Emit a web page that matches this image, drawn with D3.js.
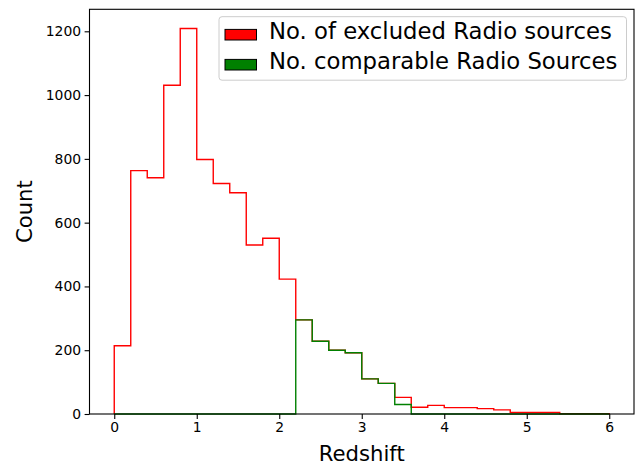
<!DOCTYPE html>
<html>
<head>
<meta charset="utf-8">
<script src="https://cdn.jsdelivr.net/npm/d3@7"></script>
<style>
  html, body { margin: 0; padding: 0; background: #fff; }
  svg { display: block; }
  text { font-family: "DejaVu Sans", sans-serif; }
</style>
</head>
<body>
<svg id="chart" width="636" height="467"></svg>
<script>
// ---- data ----
const binEdges = [0.0, 0.2, 0.4, 0.6, 0.8, 1.0, 1.2, 1.4, 1.6, 1.8, 2.0, 2.2, 2.4, 2.6, 2.8, 3.0,
                  3.2, 3.4, 3.6, 3.8, 4.0, 4.2, 4.4, 4.6, 4.8, 5.0, 5.2, 5.4, 5.6, 5.8, 6.0];
const excludedCounts = [214, 763, 741, 1031, 1209, 798, 723, 694, 530, 551, 423, 295, 228, 200, 192,
                        110, 96, 52, 21, 27, 20, 20, 17, 13, 5, 5, 5, 1, 1, 1];
const comparableCounts = [0, 0, 0, 0, 0, 0, 0, 0, 0, 0, 0, 295, 228, 200, 192,
                          110, 96, 30, 0, 0, 0, 0, 0, 0, 0, 0, 0, 0, 0, 0];
const xTicks = [0, 1, 2, 3, 4, 5, 6];
const yTicks = [0, 200, 400, 600, 800, 1000, 1200];
const seriesNames = ["No. of excluded Radio sources", "No. comparable Radio Sources"];
const seriesColors = ["#ff0000", "#008000"];
const xLabel = "Redshift";
const yLabel = "Count";

(function () {
// ---- layout ----
const svg = d3.select("#chart");
const mLeft = 89.5, mRight = 634, mTop = 9.3, mBottom = 414;
const x = d3.scaleLinear().domain([-0.3, 6.3]).range([mLeft, mRight]);
const y = d3.scaleLinear().domain([0, 1269]).range([mBottom, mTop]);

const tickLen = 4.9, tickPad = 3.5;

function stepPoints(counts) {
  const pts = [[binEdges[0], 0]];
  counts.forEach((c, i) => {
    pts.push([binEdges[i], c]);
    pts.push([binEdges[i + 1], c]);
  });
  pts.push([binEdges[binEdges.length - 1], 0]);
  return pts;
}
const line = d3.line().x(d => x(d[0])).y(d => y(d[1]));

const plot = svg.append("g");
[excludedCounts, comparableCounts].forEach((counts, i) => {
  plot.append("path")
    .attr("d", line(stepPoints(counts)))
    .attr("fill", "none")
    .attr("stroke", seriesColors[i])
    .attr("stroke-width", 1.4)
    .attr("stroke-linejoin", "miter");
});

const xAxis = d3.axisBottom(x).tickValues(xTicks).tickSize(tickLen).tickPadding(tickPad)
  .tickFormat(d3.format("d"));
const gx = svg.append("g").attr("transform", `translate(0,${mBottom})`).call(xAxis);
const yAxis = d3.axisLeft(y).tickValues(yTicks).tickSize(tickLen).tickPadding(tickPad)
  .tickFormat(d3.format("d"));
const gy = svg.append("g").attr("transform", `translate(${mLeft},0)`).call(yAxis);
[gx, gy].forEach(g => {
  g.select(".domain").remove();
  g.selectAll(".tick line").attr("stroke", "#000").attr("stroke-width", 1.1);
  g.selectAll(".tick text").attr("fill", "#000").style("font-size", "13.9px")
    .style("font-family", "DejaVu Sans, sans-serif");
});

svg.append("rect")
  .attr("x", mLeft).attr("y", mTop)
  .attr("width", mRight - mLeft).attr("height", mBottom - mTop)
  .attr("fill", "none").attr("stroke", "#000").attr("stroke-width", 1.1);

svg.append("text").attr("x", (mLeft + mRight) / 2).attr("y", 461)
  .attr("text-anchor", "middle").style("font-size", "21.2px").attr("fill", "#000")
  .text(xLabel);
svg.append("text")
  .attr("transform", `translate(31.5,${(mTop + mBottom) / 2}) rotate(-90)`)
  .attr("text-anchor", "middle").style("font-size", "21.2px").attr("fill", "#000")
  .text(yLabel);

const lg = svg.append("g");
lg.append("rect")
  .attr("x", 219).attr("y", 16.7).attr("width", 407.5).attr("height", 63.5)
  .attr("rx", 3).attr("ry", 3)
  .attr("fill", "#fff").attr("fill-opacity", 0.8)
  .attr("stroke", "#cccccc").attr("stroke-width", 1);
seriesNames.forEach((name, i) => {
  const cy = 34.7 + i * 30;
  lg.append("rect")
    .attr("x", 225).attr("y", cy - 5.3).attr("width", 31.5).attr("height", 10.6)
    .attr("fill", seriesColors[i]).attr("stroke", "#000").attr("stroke-width", 1);
  lg.append("text")
    .attr("x", 269).attr("y", 38.8 + i * 30)
    .style("font-size", "22.75px").attr("fill", "#000")
    .text(name);
});
})();
</script>
</body>
</html>
